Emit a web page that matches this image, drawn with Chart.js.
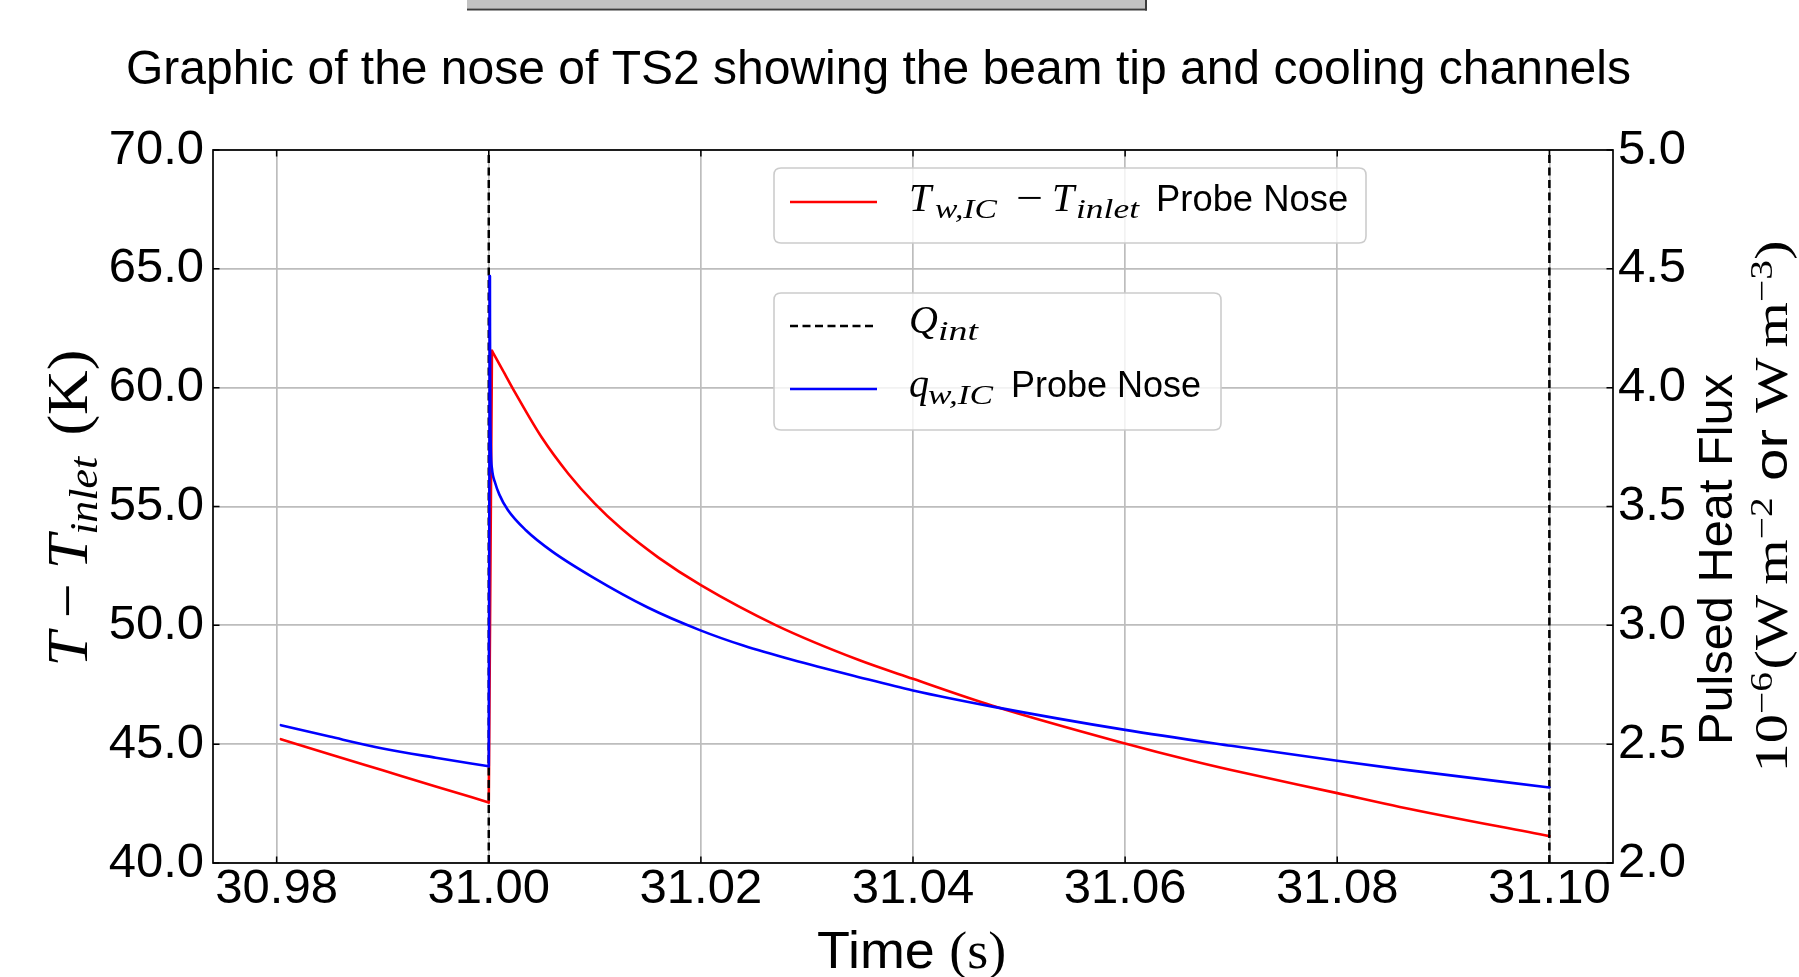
<!DOCTYPE html>
<html>
<head>
<meta charset="utf-8">
<script src="https://cdn.jsdelivr.net/npm/chart.js@4.4.1/dist/chart.umd.min.js"></script>
<style>
html,body{margin:0;padding:0;background:#ffffff;}
canvas{display:block;}
</style>
</head>
<body>
<canvas id="c" width="1799" height="977"></canvas>
<script>
// ---------- data ----------
const titleText = 'Graphic of the nose of TS2 showing the beam tip and cooling channels';
const xTicks = [30.98, 31.00, 31.02, 31.04, 31.06, 31.08, 31.10];
const xTickLabels = ['30.98', '31.00', '31.02', '31.04', '31.06', '31.08', '31.10'];
const leftTicks = [40, 45, 50, 55, 60, 65, 70];
const leftTickLabels = ['40.0', '45.0', '50.0', '55.0', '60.0', '65.0', '70.0'];
const rightTicks = [2.0, 2.5, 3.0, 3.5, 4.0, 4.5, 5.0];
const rightTickLabels = ['2.0', '2.5', '3.0', '3.5', '4.0', '4.5', '5.0'];

// T_w,IC - T_inlet (K), left axis
const redTime = [30.9804, 30.9850, 30.9900, 30.9950, 31.0000,
  31.0003, 31.0013, 31.0025, 31.0050, 31.0075, 31.0100, 31.0125, 31.0160, 31.0200,
  31.0271, 31.0349, 31.0400, 31.0475, 31.0600, 31.0663, 31.0700, 31.0800, 31.0859, 31.1000];
const redValue = [45.21, 44.58, 43.90, 43.22, 42.55,
  61.55, 60.75, 59.78, 57.90, 56.38, 55.12, 54.07, 52.85, 51.69,
  50.00, 48.54, 47.75, 46.62, 45.03, 44.30, 43.91, 42.94, 42.36, 41.13];

// q_w,IC (pulsed heat flux, right axis)
const blueTime = [30.9804, 30.9850, 30.9900, 30.9950, 31.0000,
  31.0001, 31.00015, 31.0003, 31.0006, 31.0010, 31.0018, 31.0035, 31.0060, 31.0097,
  31.0150, 31.0199, 31.0240, 31.0286, 31.0349, 31.0400, 31.0475, 31.0600, 31.0700,
  31.0800, 31.0859, 31.1000];
const blueValue = [2.580, 2.532, 2.482, 2.443, 2.407,
  4.470, 3.860, 3.660, 3.600, 3.550, 3.485, 3.400, 3.310, 3.205,
  3.075, 2.980, 2.915, 2.855, 2.782, 2.726, 2.658, 2.560, 2.493,
  2.430, 2.395, 2.318];

// Q_int pulse markers (vertical dashed lines)
const pulseTime = [31.00, 31.10];
const pulseRange = [2.0, 5.0];

// ---------- helpers ----------
const SANS = '"Liberation Sans", Arial, sans-serif';
const SERIF = '"Liberation Serif", "Times New Roman", serif';
const MI = s => `italic ${s}px ${SERIF}`;
const MR = s => `${s}px ${SERIF}`;
const SS = s => `${s}px ${SANS}`;

function drawRun(ctx, runs, x, y, opt) {
  const o = Object.assign({align: 'center', rotate: 0, width: null}, opt || {});
  ctx.save();
  ctx.textBaseline = 'alphabetic';
  ctx.textAlign = 'left';
  ctx.fillStyle = '#000';
  const ws = runs.map(r => { ctx.font = r.f; return ctx.measureText(r.t).width; });
  let total = 0;
  runs.forEach((r, i) => { total += (r.pre || 0) + ws[i] + (r.post || 0); });
  const sx = o.width ? o.width / total : 1;
  ctx.translate(x, y);
  if (o.rotate) ctx.rotate(o.rotate);
  const start = o.align === 'center' ? -total * sx / 2 : (o.align === 'right' ? -total * sx : 0);
  ctx.translate(start, 0);
  ctx.scale(sx, 1);
  let cx = 0;
  runs.forEach((r, i) => {
    cx += r.pre || 0;
    ctx.font = r.f;
    ctx.fillText(r.t, cx, r.dy || 0);
    cx += ws[i] + (r.post || 0);
  });
  ctx.restore();
}

function drawAbs(ctx, segs, baseY) {
  segs.forEach(s => {
    ctx.save();
    ctx.textBaseline = 'alphabetic';
    ctx.textAlign = 'left';
    ctx.fillStyle = '#000';
    ctx.font = s.f;
    const w = ctx.measureText(s.t).width;
    ctx.translate(s.x, baseY + (s.dy || 0));
    if (s.w) ctx.scale(s.w / w, 1);
    ctx.fillText(s.t, 0, 0);
    ctx.restore();
  });
}

function roundBox(ctx, x, y, w, h, r) {
  ctx.beginPath();
  ctx.moveTo(x + r, y);
  ctx.lineTo(x + w - r, y);
  ctx.quadraticCurveTo(x + w, y, x + w, y + r);
  ctx.lineTo(x + w, y + h - r);
  ctx.quadraticCurveTo(x + w, y + h, x + w - r, y + h);
  ctx.lineTo(x + r, y + h);
  ctx.quadraticCurveTo(x, y + h, x, y + h - r);
  ctx.lineTo(x, y + r);
  ctx.quadraticCurveTo(x, y, x + r, y);
  ctx.closePath();
  ctx.fillStyle = 'rgba(255,255,255,0.8)';
  ctx.fill();
  ctx.strokeStyle = '#cccccc';
  ctx.lineWidth = 1.6;
  ctx.stroke();
}

function sample(ctx, y, color, dash) {
  ctx.save();
  ctx.strokeStyle = color;
  ctx.lineWidth = 2.6;
  ctx.setLineDash(dash || []);
  ctx.beginPath();
  ctx.moveTo(790, y);
  ctx.lineTo(877, y);
  ctx.stroke();
  ctx.restore();
}

// ---------- decorations plugin ----------
const decor = {
  id: 'decor',
  beforeDraw(chart) {
    const c = chart.ctx;
    c.save();
    c.fillStyle = '#ffffff';
    c.fillRect(0, 0, chart.width, chart.height);
    c.fillStyle = '#c2c2c2';
    c.fillRect(467, 0, 678, 8.5);
    c.fillStyle = '#3c3c3c';
    c.fillRect(467, 8.5, 680, 2);
    c.fillRect(1145, 0, 2, 10.5);
    c.restore();
  },
  afterDatasetsDraw(chart) {
    const c = chart.ctx;
    const a = chart.chartArea;
    const sx = chart.scales.x, sy = chart.scales.y, sy2 = chart.scales.y2;
    c.save();
    c.strokeStyle = '#000';
    c.lineWidth = 1.5;
    c.beginPath();
    xTicks.forEach(v => {
      const p = sx.getPixelForValue(v);
      c.moveTo(p, a.bottom); c.lineTo(p, a.bottom - 6.5);
      c.moveTo(p, a.top); c.lineTo(p, a.top + 6.5);
    });
    leftTicks.forEach(v => {
      const p = sy.getPixelForValue(v);
      c.moveTo(a.left, p); c.lineTo(a.left + 6.5, p);
    });
    rightTicks.forEach(v => {
      const p = sy2.getPixelForValue(v);
      c.moveTo(a.right, p); c.lineTo(a.right - 6.5, p);
    });
    c.stroke();
    c.lineWidth = 1.7;
    c.strokeRect(a.left, a.top, a.right - a.left, a.bottom - a.top);
    c.restore();

    // legends
    c.save();
    roundBox(c, 774, 168, 592, 75, 7);
    roundBox(c, 774, 293, 447, 137, 7);
    c.restore();
    sample(c, 202, '#ff0000');
    sample(c, 326, '#000000', [8, 4.5]);
    sample(c, 389, '#0000ff');
    drawAbs(c, [
      {t: 'T', f: MI(40), x: 909},
      {t: 'w,IC', f: MI(28), x: 935, dy: 7, w: 62},
      {t: '\u2212', f: MR(40), x: 1016, w: 27},
      {t: 'T', f: MI(40), x: 1052},
      {t: 'inlet', f: MI(28), x: 1076, dy: 7, w: 63},
      {t: 'Probe Nose', f: SS(36.4), x: 1156}
    ], 211);
    drawAbs(c, [
      {t: 'Q', f: MI(40), x: 909},
      {t: 'int', f: MI(28), x: 938, dy: 7, w: 40}
    ], 333);
    drawAbs(c, [
      {t: 'q', f: MI(40), x: 909},
      {t: 'w,IC', f: MI(28), x: 928, dy: 7, w: 65},
      {t: 'Probe Nose', f: SS(36), x: 1011}
    ], 397);
  },
  afterDraw(chart) {
    const c = chart.ctx;
    drawRun(c, [{t: titleText, f: SS(48)}], 878.5, 84, {align: 'center'});
    drawRun(c, [{t: 'Time', f: SS(52), post: 14}, {t: '(s)', f: MR(52)}], 911.6, 968, {align: 'center', width: 189});
    drawRun(c, [
      {t: 'T', f: MI(58), post: 13},
      {t: '\u2212', f: MR(58), post: 13},
      {t: 'T', f: MI(58)},
      {t: 'inlet', f: MI(41), dy: 10, post: 20},
      {t: '(K)', f: MR(58)}
    ], 87, 508, {align: 'center', rotate: -Math.PI / 2, width: 317});
    drawRun(c, [{t: 'Pulsed Heat Flux', f: SS(49)}], 1732, 559.5, {align: 'center', rotate: -Math.PI / 2, width: 371});
    drawRun(c, [
      {t: '10', f: MR(46)},
      {t: '\u22126', f: MR(31), dy: -15, post: 2},
      {t: '(W', f: MR(46), post: 8},
      {t: 'm', f: MR(46)},
      {t: '\u22122', f: MR(31), dy: -15},
      {t: ' or ', f: SS(46)},
      {t: 'W', f: MR(46), post: 8},
      {t: 'm', f: MR(46)},
      {t: '\u22123', f: MR(31), dy: -15},
      {t: ')', f: MR(46)}
    ], 1787, 506.5, {align: 'center', rotate: -Math.PI / 2, width: 532});
  }
};

// ---------- datasets ----------
// split a series into smooth pre-pulse part, straight jump, smooth post-pulse part
function splitAtJump(times, values) {
  let j = 1;
  while (j < values.length && values[j] <= values[j - 1]) j++;
  const pts = times.map((t, i) => ({x: t, y: values[i]}));
  return {pre: pts.slice(0, j), jump: pts.slice(j - 1, j + 1), post: pts.slice(j)};
}
const red = splitAtJump(redTime, redValue);
const blue = splitAtJump(blueTime, blueValue);
const pulseData = [];
pulseTime.forEach((t, i) => {
  if (i > 0) pulseData.push({x: (pulseTime[i - 1] + t) / 2, y: null});
  pulseData.push({x: t, y: pulseRange[0]});
  pulseData.push({x: t, y: pulseRange[1]});
});

function seg(label, data, axis, color, order, smooth) {
  return {label, data, yAxisID: axis, borderColor: color, borderWidth: 2.6, pointRadius: 0,
    cubicInterpolationMode: smooth ? 'monotone' : 'default', tension: 0, fill: false, order,
    borderCapStyle: 'round', borderJoinStyle: 'round'};
}

const tickFont = {family: '"Liberation Sans", Arial, sans-serif', size: 49, lineHeight: 1};
const gridOpts = {color: '#bdbdbd', lineWidth: 1.7, drawTicks: false};

new Chart(document.getElementById('c').getContext('2d'), {
  type: 'line',
  data: {
    datasets: [
      seg('q_w,IC Probe Nose', blue.pre, 'y2', '#0000ff', 0, true),
      seg('q_w,IC Probe Nose', blue.jump, 'y2', '#0000ff', 0, false),
      seg('q_w,IC Probe Nose', blue.post, 'y2', '#0000ff', 0, true),
      {label: 'Q_int', data: pulseData, yAxisID: 'y2', borderColor: '#000000', borderWidth: 2.5,
        borderDash: [8, 4.5], pointRadius: 0, tension: 0, spanGaps: false, fill: false, order: 1},
      seg('T_w,IC - T_inlet Probe Nose', red.pre, 'y', '#ff0000', 2, true),
      seg('T_w,IC - T_inlet Probe Nose', red.jump, 'y', '#ff0000', 2, false),
      seg('T_w,IC - T_inlet Probe Nose', red.post, 'y', '#ff0000', 2, true)
    ]
  },
  options: {
    responsive: false,
    animation: false,
    devicePixelRatio: 1,
    events: [],
    layout: {padding: {top: 150, left: 0, right: 0, bottom: 0}, autoPadding: false},
    plugins: {legend: {display: false}, title: {display: false}, tooltip: {enabled: false}},
    scales: {
      x: {
        type: 'linear', position: 'bottom', min: 30.974, max: 31.106,
        afterBuildTicks: s => { s.ticks = xTicks.map(v => ({value: v})); },
        afterFit: s => { s.height = 114; },
        ticks: {autoSkip: false, maxRotation: 0, minRotation: 0, color: '#000', font: tickFont, padding: 2,
          callback: (v, i) => xTickLabels[i]},
        grid: gridOpts,
        border: {display: false}
      },
      y: {
        type: 'linear', position: 'left', min: 40, max: 70,
        afterBuildTicks: s => { s.ticks = leftTicks.map(v => ({value: v})); },
        afterFit: s => { s.width = 213; },
        ticks: {color: '#000', font: tickFont, padding: 9, callback: (v, i) => leftTickLabels[i]},
        grid: gridOpts,
        border: {display: false}
      },
      y2: {
        type: 'linear', position: 'right', min: 2, max: 5,
        afterBuildTicks: s => { s.ticks = rightTicks.map(v => ({value: v})); },
        afterFit: s => { s.width = 186; },
        ticks: {color: '#000', font: tickFont, padding: 5, callback: (v, i) => rightTickLabels[i]},
        grid: {display: false, drawTicks: false},
        border: {display: false}
      }
    }
  },
  plugins: [decor]
});
</script>
</body>
</html>
